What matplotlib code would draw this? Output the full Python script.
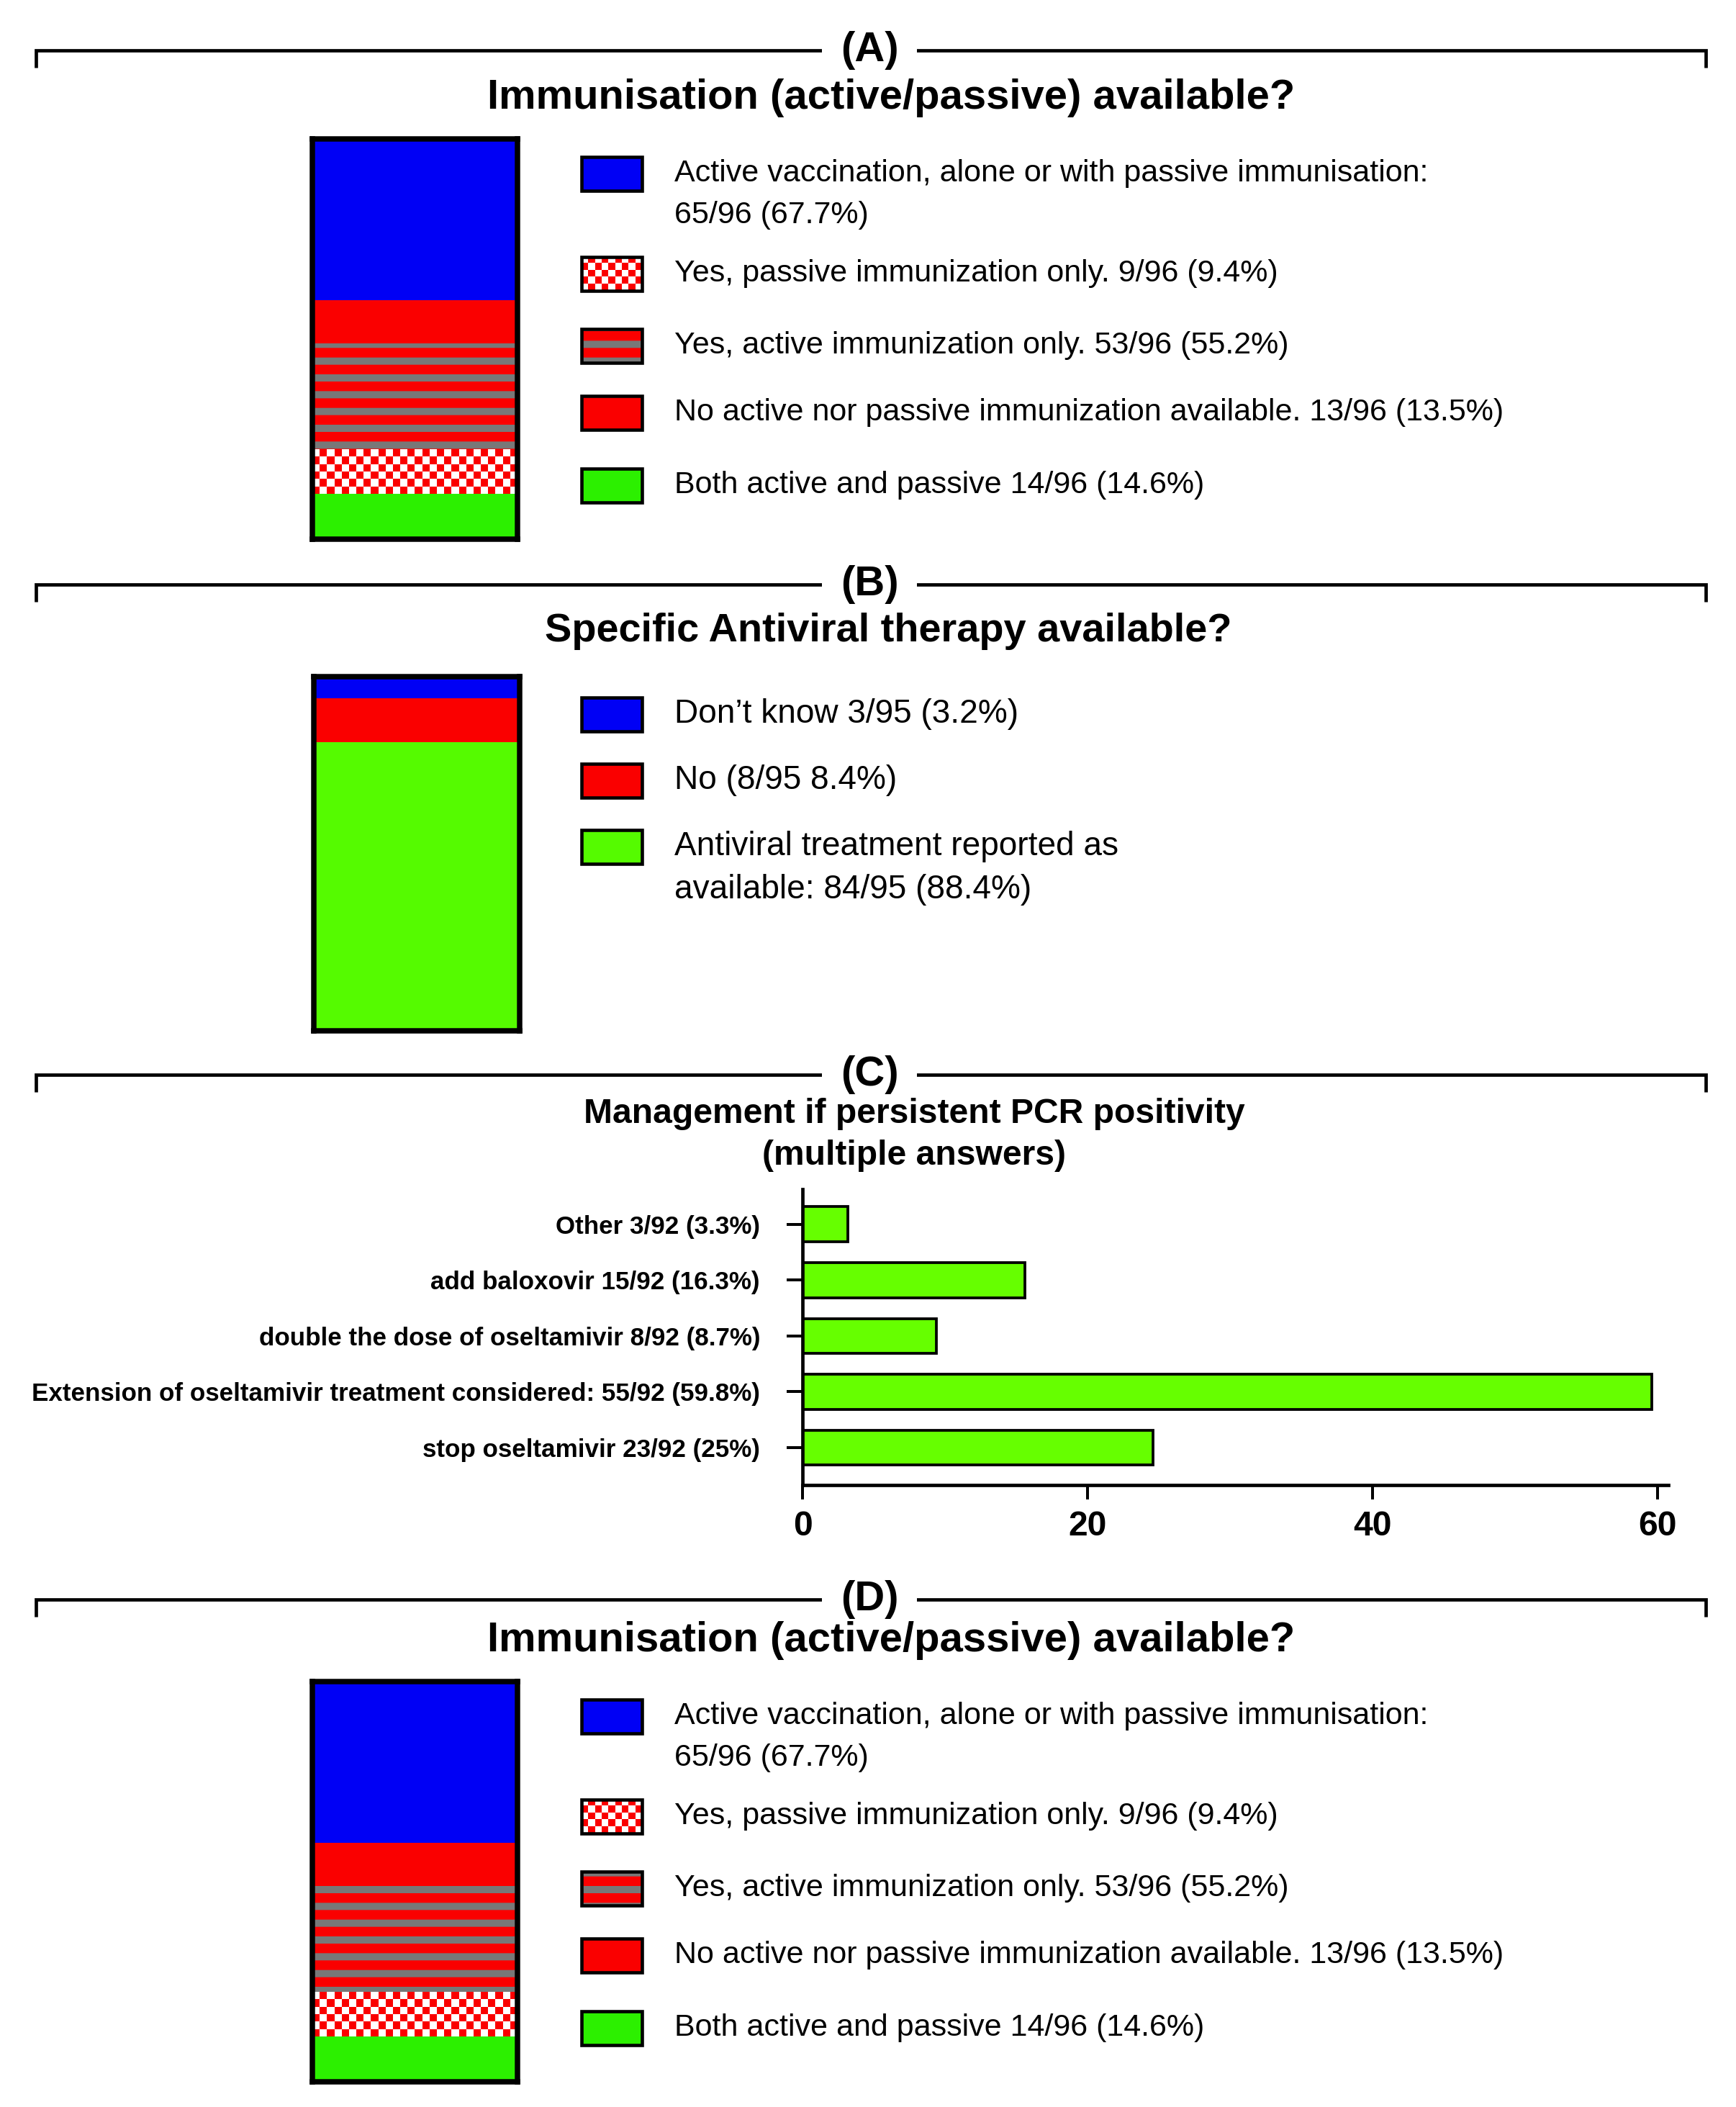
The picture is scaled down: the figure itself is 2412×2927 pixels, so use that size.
import matplotlib
matplotlib.use('Agg')
import matplotlib.pyplot as plt
from matplotlib.patches import Rectangle
from matplotlib.colors import ListedColormap
import numpy as np

DPI = 140
W, H = 2412, 2927

plt.rcParams['font.family'] = ['Liberation Sans', 'DejaVu Sans']
plt.rcParams['hatch.linewidth'] = 10 * 72 / DPI


def pt(px):
    return px * 72 / DPI


# ---- data ----
# legend entries, top to bottom
imm_labels = ["Active vaccination, alone or with passive immunisation:\n65/96 (67.7%)",
              "Yes, passive immunization only. 9/96 (9.4%)",
              "Yes, active immunization only. 53/96 (55.2%)",
              "No active nor passive immunization available. 13/96 (13.5%)",
              "Both active and passive 14/96 (14.6%)"]
imm_fills = ['blue', 'checker', 'stripes', 'red', 'green']
# stacked bar segments, top of the bar first (share of the bar)
imm_bar_fills = ['blue', 'red', 'stripes', 'checker', 'green']
imm_bar_heights = [40.3, 10.8, 26.4, 11.1, 11.4]

av_labels = ["Don\u2019t know 3/95 (3.2%)",
             "No (8/95 8.4%)",
             "Antiviral treatment reported as\navailable: 84/95 (88.4%)"]
av_fills = ['blue', 'red', 'lime']
av_heights = [6.0, 12.5, 81.5]

pcr_labels = ["stop oseltamivir 23/92 (25%)",
              "Extension of oseltamivir treatment considered: 55/92 (59.8%)",
              "double the dose of oseltamivir 8/92 (8.7%)",
              "add baloxovir 15/92 (16.3%)",
              "Other 3/92 (3.3%)"]
pcr_values = [24.6, 59.6, 9.4, 15.6, 3.2]
pcr_ticks = [0, 20, 40, 60]

COL = {'blue': '#0000f5', 'red': '#fa0000', 'green': '#2cf000',
       'lime': '#55fb00', 'bar': '#66ff00', 'grey': '#787878'}
checker_cmap = ListedColormap(['white', COL['red']])

fig = plt.figure(figsize=(W / DPI, H / DPI), dpi=DPI)

# overlay in pixel coordinates for brackets, titles and legends
ov = fig.add_axes([0, 0, 1, 1])
ov.axis('off')


def rect_frac(x0, x1, y0, y1):
    return [x0 / W, 1 - y1 / H, (x1 - x0) / W, (y1 - y0) / H]


def checker(nx, ny):
    return (np.indices((ny, nx)).sum(axis=0) % 2)


def bracket(y, label):
    ov.plot([50, 50, 2370, 2370], [y + 24, y, y, y + 24], color='black',
            lw=pt(4.7), solid_joinstyle='miter', solid_capstyle='butt')
    ov.text(1208, y, label, ha='center', va='center', fontsize=pt(58),
            fontweight='bold',
            bbox=dict(boxstyle='square,pad=0.45', fc='white', ec='none'))


def stacked(x0, x1, y0, y1, heights, fills):
    ax = fig.add_axes(rect_frac(x0, x1, y0, y1))
    total = sum(heights)
    px_h = y1 - y0
    px_w = x1 - x0
    b = 0
    for h, f in zip(heights[::-1], fills[::-1]):
        if f == 'stripes':
            ax.bar(0, h, bottom=b, width=1, color=COL['red'],
                   edgecolor=COL['grey'], hatch='-', linewidth=0)
        elif f == 'checker':
            ax.bar(0, h, bottom=b, width=1, color='white', linewidth=0)
            ny = max(1, int(round(h / total * px_h / 10)))
            nx = int(round(px_w / 10))
            ax.imshow(checker(nx, ny), extent=(-0.5, 0.5, b, b + h),
                      aspect='auto', interpolation='nearest',
                      cmap=checker_cmap, zorder=2)
        else:
            ax.bar(0, h, bottom=b, width=1, color=COL[f], linewidth=0)
        b += h
    ax.set_xlim(-0.5, 0.5)
    ax.set_ylim(0, total)
    ax.set_xticks([])
    ax.set_yticks([])
    for s in ax.spines.values():
        s.set_linewidth(pt(7.5))


def legend(centers, labels, fills, gap=59, size=43):
    bx, bw, bh = 808, 84, 47
    for c, lab, f in zip(centers, labels, fills):
        if f == 'stripes':
            ov.add_patch(Rectangle((bx, c - bh / 2), bw, bh, fc=COL['red'],
                                   ec=COL['grey'], hatch='-', lw=0))
        elif f == 'checker':
            ov.imshow(checker(9, 5), extent=(bx, bx + bw, c + bh / 2, c - bh / 2),
                      aspect='auto', interpolation='nearest', cmap=checker_cmap)
        else:
            ov.add_patch(Rectangle((bx, c - bh / 2), bw, bh, fc=COL[f], lw=0))
        ov.add_patch(Rectangle((bx, c - bh / 2), bw, bh, fc='none',
                               ec='black', lw=pt(4.6)))
        for i, line in enumerate(lab.split('\n')):
            ov.text(937, c + i * gap, line, va='center', ha='left',
                    fontsize=pt(size))


def immunisation(dy, bracket_y, tag):
    bracket(bracket_y, tag)
    ov.text(1238, 136 + dy, "Immunisation (active/passive) available?",
            ha='center', va='center', fontsize=pt(58), fontweight='bold')
    stacked(434, 719, 193 + dy, 749 + dy, imm_bar_heights, imm_bar_fills)
    legend([241 + dy, 380 + dy, 480 + dy, 573 + dy, 674 + dy],
           imm_labels, imm_fills, gap=58)


# (A)
immunisation(0, 70, '(A)')

# (B)
bracket(812, '(B)')
ov.text(1234, 877, "Specific Antiviral therapy available?", ha='center',
        va='center', fontsize=pt(56), fontweight='bold')
stacked(436, 722, 940, 1432, av_heights, av_fills)
legend([992, 1084, 1176], av_labels, av_fills, gap=60, size=46)

# (C)
bracket(1493, '(C)')
ov.text(1270, 1548, "Management if persistent PCR positivity", ha='center',
        va='center', fontsize=pt(48), fontweight='bold')
ov.text(1270, 1606, "(multiple answers)", ha='center', va='center',
        fontsize=pt(48), fontweight='bold')

axc = fig.add_axes(rect_frac(1115, 2318, 1652, 2063))
ypos = np.arange(len(pcr_values))
axc.barh(ypos, pcr_values, height=0.63, color=COL['bar'], edgecolor='black',
         linewidth=pt(3.8))
axc.set_yticks(ypos, pcr_labels, fontsize=pt(35), fontweight='bold')
axc.set_xticks(pcr_ticks, [str(t) for t in pcr_ticks], fontsize=pt(48),
               fontweight='bold')
axc.set_xlim(0, 60.75)
axc.set_ylim(-0.67, 4.63)
axc.spines['top'].set_visible(False)
axc.spines['right'].set_visible(False)
axc.spines['left'].set_linewidth(pt(4.7))
axc.spines['bottom'].set_linewidth(pt(4.7))
axc.tick_params(axis='y', length=pt(22), width=pt(4), pad=pt(37))
axc.tick_params(axis='x', length=pt(20), width=pt(4), pad=pt(15))

# (D)
immunisation(2143, 2222, '(D)')

ov.set_xlim(0, W)
ov.set_ylim(H, 0)

fig.savefig('out.png', dpi=DPI, facecolor='white')
